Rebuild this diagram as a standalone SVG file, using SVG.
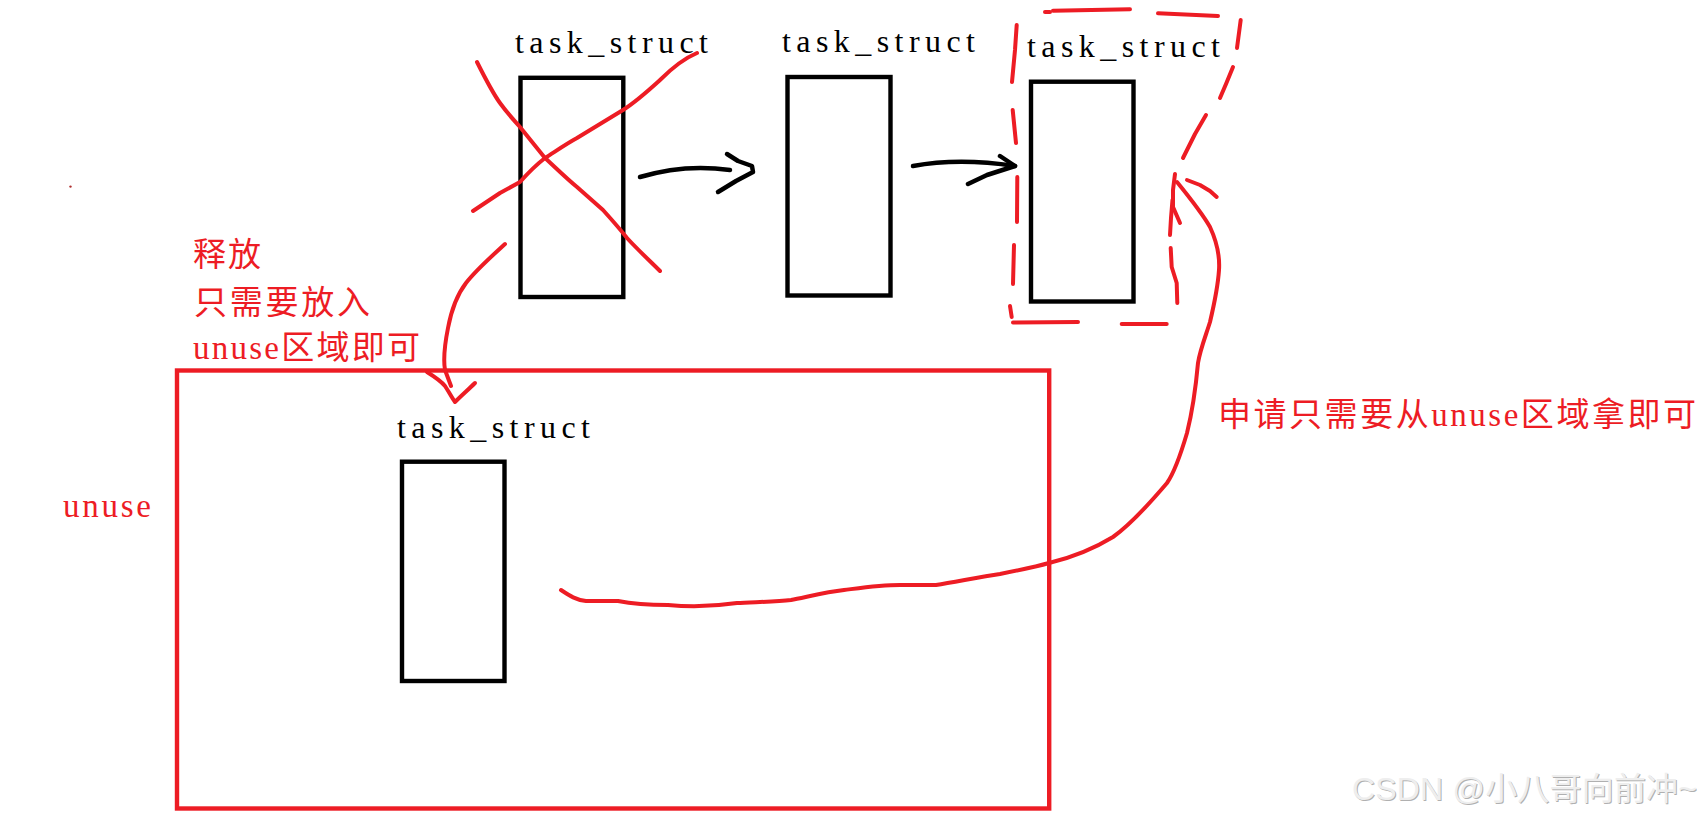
<svg xmlns="http://www.w3.org/2000/svg" width="1701" height="817" viewBox="0 0 1701 817">
<style>
.box{fill:none;stroke:#000;stroke-width:4.4}
.lbl{font-family:"Liberation Serif","Noto Sans CJK SC",serif;font-size:32px;fill:#000}
.red{fill:none;stroke:#ed1c24;stroke-width:4;stroke-linecap:round;stroke-linejoin:round}
.ink{fill:none;stroke:#000;stroke-width:4.5;stroke-linecap:round;stroke-linejoin:round}
.rt{font-family:"Liberation Serif","Noto Sans CJK SC",serif;font-size:33px;fill:#ed1c24}
.wm{font-family:"Liberation Sans","Noto Sans CJK SC",sans-serif;font-size:32px}
</style>
<rect width="1701" height="817" fill="#fff"/>

<g id="unuse-area">
  <rect x="177" y="370.5" width="872.2" height="438" fill="none" stroke="#ed1c24" stroke-width="4.4"/>
  <text class="rt" x="63" y="517" font-size="32" textLength="88" lengthAdjust="spacing">unuse</text>
</g>

<g id="task1">
  <text class="lbl" x="515" y="53" textLength="193" lengthAdjust="spacing">task_struct</text>
  <rect class="box" x="520.5" y="77.8" width="102.8" height="219.2"/>
</g>
<g id="task2">
  <text class="lbl" x="782" y="52" textLength="193" lengthAdjust="spacing">task_struct</text>
  <rect class="box" x="787.5" y="77" width="103" height="218.5"/>
</g>
<g id="task3">
  <text class="lbl" x="1027" y="57" textLength="193" lengthAdjust="spacing">task_struct</text>
  <rect class="box" x="1031" y="81.7" width="102.5" height="219.8"/>
</g>
<g id="task4">
  <text class="lbl" x="397" y="438" textLength="193" lengthAdjust="spacing">task_struct</text>
  <rect class="box" x="402" y="461.7" width="102.5" height="219.3"/>
</g>

<g id="cross-mark">
  <path class="red" stroke-width="3.6" d="M477,62 C485,78 492,92 500,103 S512,118 520,127 L545,158 C556,168 566,178 577,187 L603,210 C612,220 620,229 627,238 C638,250 650,261 660,271"/>
  <path class="red" stroke-width="3.6" d="M473,211 C482,205 491,199 500,193 L520,182 C528,173 536,165 545,158 C556,151 566,144 577,138 L623,110 C637,101 649,90 660,80 C672,68 685,58 697,53"/>
</g>

<g id="selected-outline" class="red">
  <path d="M1016.7,25 L1015,50 L1012,82"/>
  <path d="M1012.7,110 L1016,143"/>
  <path d="M1017.3,177 L1017,222"/>
  <path d="M1014,245 L1013,284"/>
  <path d="M1010,306 L1011.7,317"/>
  <path d="M1045,12 L1050,12"/>
  <path d="M1053,10.7 L1130,9.3"/>
  <path d="M1158,13.3 L1218,16"/>
  <path d="M1240.7,20 L1237,48"/>
  <path d="M1233,67 L1226,84 L1220,98"/>
  <path d="M1206,115 L1195,134 L1183,158"/>
  <path d="M1170.7,248 L1171.7,267 L1176.7,283 L1177.3,303"/>
  <path d="M1013,322.5 L1078,322"/>
  <path d="M1121.7,324 L1166.7,324"/>
</g>

<g id="connectors">
  <g id="link-1-2">
    <path class="ink" d="M640,177 C663,170 695,165 730,170"/>
    <path class="ink" d="M727,154 L738,161 L752,166 L753,172 L736,181 L718,192"/>
  </g>
  <g id="link-2-3">
    <path class="ink" d="M913,166 C940,161 975,160 1015,166"/>
    <path class="ink" d="M1000,156 L1015,166 L987,175 L968,184"/>
  </g>
  <g id="release-arrow">
    <path class="red" d="M505,244 C492,256 476,270 466,283 C456,296 451,312 448,328 C445,343 443,358 445,370 L451,386"/>
    <path class="red" d="M427,372 C435,377 441,381 445,386 C449,392 452,398 455,402 C462,395 469,389 475,383"/>
  </g>
  <g id="request-arrow">
    <path class="red" d="M561,590 C570,596 576,600 586,601 L618,601 C628,603 640,605 668,605 C690,607 710,607 737,603 C752,602 775,602 791,600 C803,598 825,592 844,590 C860,588 880,585 900,585 L936,585 C955,582 980,577 1000,574 C1020,570 1035,567 1049,563 C1070,558 1095,548 1113,537 C1130,525 1150,503 1167,483 C1176,470 1182,450 1187,433 C1192,413 1196,385 1198,363 C1200,350 1206,335 1210,322 C1214,305 1218,285 1219,270 C1220,255 1216,240 1210,227 C1202,213 1190,198 1177,182"/>
    <path class="red" d="M1175,174 L1173,190 L1173,207 L1180,223"/>
    <path class="red" d="M1172.5,200 L1171,218 L1170,235"/>
    <path class="red" d="M1187,180 L1200,185 L1210,191 L1216.7,197"/>
  </g>
</g>

<g id="notes">
  <text class="rt" x="193" y="266" textLength="68" lengthAdjust="spacing">释放</text>
  <text class="rt" x="194" y="314" textLength="176" lengthAdjust="spacing">只需要放入</text>
  <text class="rt" x="193" y="359" textLength="227" lengthAdjust="spacing">unuse区域即可</text>
  <text class="rt" x="1218" y="426" textLength="478" lengthAdjust="spacing">申请只需要从unuse区域拿即可</text>
</g>

<circle cx="70.5" cy="186.6" r="1.2" fill="#b03030"/>

<g id="watermark">
  <text class="wm" x="1353" y="801" fill="#b0b0b0" textLength="345" lengthAdjust="spacing">CSDN @小八哥向前冲~</text>
  <text class="wm" x="1352" y="800" fill="#eeeeee" textLength="345" lengthAdjust="spacing">CSDN @小八哥向前冲~</text>
</g>
</svg>
